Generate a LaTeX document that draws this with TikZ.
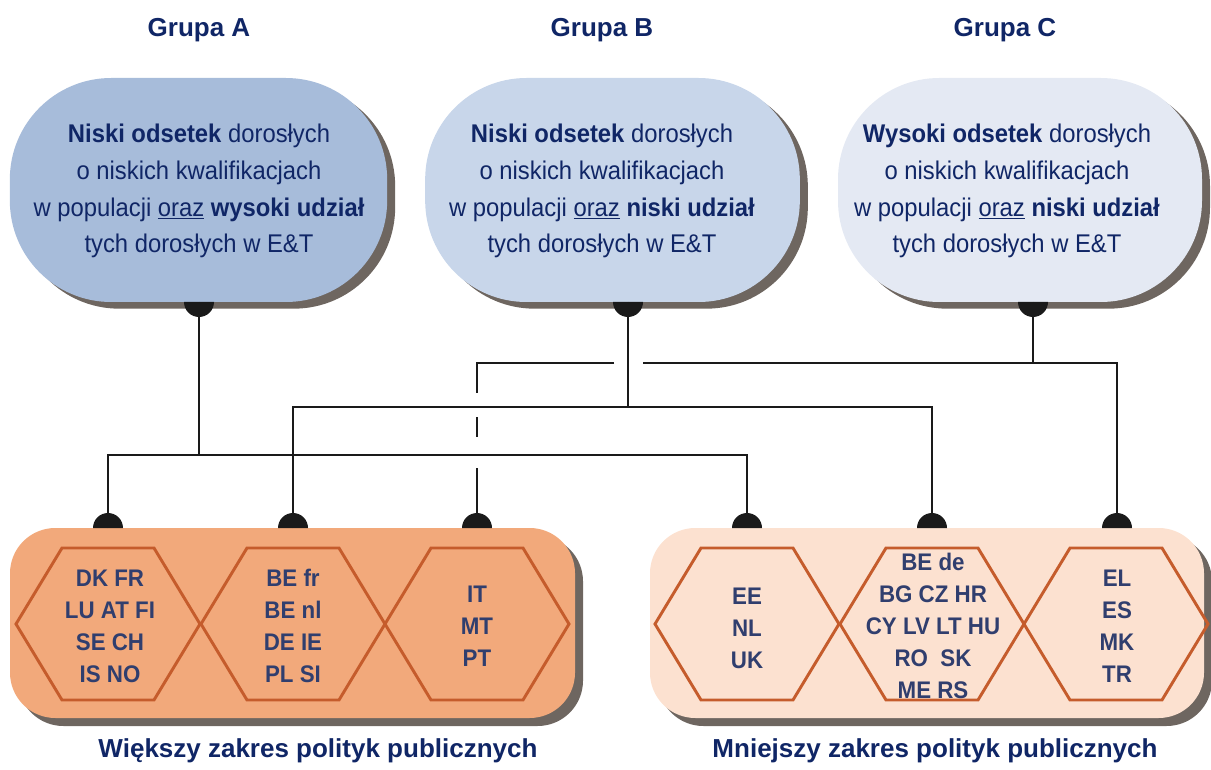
\documentclass[tikz,border=0pt]{standalone}
\usepackage{fontspec}
\setmainfont{Liberation Sans}
\newfontfamily\condfont[FakeStretch=0.93]{Liberation Sans}
\usetikzlibrary{shadows}
\definecolor{navy}{RGB}{16,38,102}
\definecolor{ctext}{RGB}{48,62,110}
\definecolor{bubA}{RGB}{167,188,218}
\definecolor{bubB}{RGB}{200,214,234}
\definecolor{bubC}{RGB}{228,233,243}
\definecolor{shade}{RGB}{110,102,96}
\definecolor{boxL}{RGB}{242,169,123}
\definecolor{boxR}{RGB}{252,225,208}
\definecolor{hexcol}{RGB}{197,92,44}
\definecolor{linecol}{RGB}{26,26,26}
\begin{document}
\begin{tikzpicture}[x=0.75pt,y=0.75pt,
  bubble/.style={rounded corners=76pt, minimum height=168pt, inner sep=0pt,
    drop shadow={shadow xshift=6pt, shadow yshift=-5pt, fill=shade, opacity=1}},
  lowbox/.style={rounded corners=34pt, minimum height=142.5pt, inner sep=0pt,
    drop shadow={shadow xshift=6pt, shadow yshift=-6pt, fill=shade, opacity=1}},
  grouptitle/.style={font=\bfseries\fontsize{19.5}{23}\selectfont, text=navy},
  bottomlbl/.style={font=\bfseries\fontsize{19.5}{23}\selectfont, text=navy},
  btext/.style={font=\condfont\fontsize{19.2}{27.6}\selectfont, text=navy, align=center, inner sep=0pt},
  cnt/.style={font=\condfont\bfseries\fontsize{18}{24}\selectfont, text=ctext, align=center, inner sep=0pt},
  hexline/.style={draw=hexcol, line width=2.2pt, line join=miter},
  conn/.style={draw=linecol, line width=1.7pt},
  knob/.style={fill=linecol},
  hexpic/.pic={\draw[hexline] (-92,0) -- (-46,76) -- (46,76) -- (92,0) -- (46,-76) -- (-46,-76) -- cycle;}
]
\useasboundingbox (0,0) rectangle (1211,769);

% titles
\node[grouptitle] (gA) at (199,739) {Grupa A};
\node[grouptitle] (gB) at (602,739) {Grupa B};
\node[grouptitle] (gC) at (1005,739) {Grupa C};

% bubbles
\node[bubble, fill=bubA, minimum width=283pt] (bA) at (198.5,579) {};
\node[bubble, fill=bubB, minimum width=281pt] (bB) at (612.5,579) {};
\node[bubble, fill=bubC, minimum width=273pt] (bC) at (1020,579) {};

\node[btext] (tA) at (199,578) {\textbf{Niski odsetek} dorosłych\\o niskich kwalifikacjach\\w populacji \underline{oraz} \textbf{wysoki udział}\\tych dorosłych w E\&T};
\node[btext] (tB) at (602,578) {\textbf{Niski odsetek} dorosłych\\o niskich kwalifikacjach\\w populacji \underline{oraz} \textbf{niski udział}\\tych dorosłych w E\&T};
\node[btext] (tC) at (1007,578) {\textbf{Wysoki odsetek} dorosłych\\o niskich kwalifikacjach\\w populacji \underline{oraz} \textbf{niski udział}\\tych dorosłych w E\&T};

% lower boxes
\node[lowbox, fill=boxL, minimum width=423.75pt] (boxLeft) at (292.5,146) {};
\node[lowbox, fill=boxR, minimum width=415.5pt] (boxRight) at (927,146) {};

\pic at (108,145) {hexpic};
\pic at (293,145) {hexpic};
\pic at (477,145) {hexpic};
\pic at (747,145) {hexpic};
\pic at (932,145) {hexpic};
\pic at (1116,145) {hexpic};

\node[cnt] (c1) at (110,143) {DK FR\\LU AT FI\\SE CH\\IS NO};
\node[cnt] (c2) at (293,143) {BE fr\\BE nl\\DE IE\\PL SI};
\node[cnt] (c3) at (477,143) {IT\\MT\\PT};
\node[cnt] (c4) at (747,141) {EE\\NL\\UK};
\node[cnt] (c5) at (933,143) {BE de\\BG CZ HR\\CY LV LT HU\\RO~~SK\\ME RS};
\node[cnt] (c6) at (1117,143) {EL\\ES\\MK\\TR};

\node[bottomlbl] (lL) at (318,18) {Większy zakres polityk publicznych};
\node[bottomlbl] (lR) at (935,18) {Mniejszy zakres polityk publicznych};

% knob coordinates
\coordinate (kA) at (199,467);
\coordinate (kB) at (628,467);
\coordinate (kC) at (1033,467);
\coordinate (k1) at (108,241);
\coordinate (k2) at (293,241);
\coordinate (k3) at (477,241);
\coordinate (k4) at (747,241);
\coordinate (k5) at (932,241);
\coordinate (k6) at (1117,241);

% bus coordinates
\coordinate (busA) at (199,314);
\coordinate (busB) at (628,362);
\coordinate (busC) at (1033,406);
\coordinate (gapR) at (643,406);
\coordinate (gapL) at (614,406);
\coordinate (g1) at (477,376);
\coordinate (g2) at (477,352);
\coordinate (g3) at (477,332);
\coordinate (g4) at (477,301);

% connectors
\draw[conn] (kC) -- (busC) -| (k6);
\draw[conn] (busC) -- (gapR);
\draw[conn] (gapL) -| (g1);
\draw[conn] (g2) -- (g3);
\draw[conn] (g4) -- (k3);
\draw[conn] (kB) -- (busB);
\draw[conn] (k2) |- (busB) -| (k5);
\draw[conn] (kA) -- (busA);
\draw[conn] (k1) |- (busA) -| (k4);

% knobs
\foreach \k in {kA,kB,kC}{
  \fill[knob] ([xshift=-11.25pt]\k) arc[start angle=180, end angle=360, radius=11.25pt] -- cycle;
}
\foreach \k in {k1,k2,k3,k4,k5,k6}{
  \fill[knob] ([xshift=-11.25pt]\k) arc[start angle=180, end angle=0, radius=11.25pt] -- cycle;
}
\end{tikzpicture}
\end{document}
